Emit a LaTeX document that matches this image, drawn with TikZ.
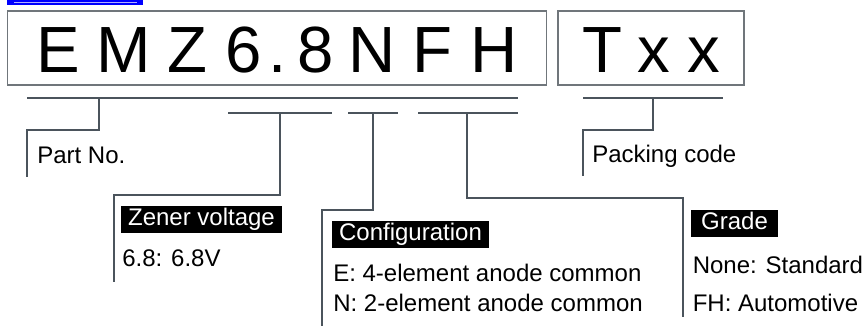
\documentclass[tikz,border=0pt]{standalone}
\usepackage{fontspec}
\setmainfont{Liberation Sans}
\usetikzlibrary{positioning}
\definecolor{leadgray}{HTML}{4B545C}
\definecolor{boxgray}{HTML}{70767B}
\definecolor{linkblue}{HTML}{0000FF}
\tikzset{
  lead/.style={draw=leadgray, line width=2pt},
  codebox/.style={draw=boxgray, line width=0.8pt, minimum height=55.5pt, inner sep=0pt},
  bigchar/.style={font=\fontsize{49}{49}\selectfont, anchor=base, inner sep=0pt},
  itemtext/.style={font=\fontsize{18}{18}\selectfont, anchor=base west, inner sep=0pt},
  headtag/.style={fill=black, text=white, font=\fontsize{18}{18}\selectfont,
    minimum height=20.25pt, inner sep=0pt, text height=13pt, text depth=3.8pt}
}
\begin{document}
\begin{tikzpicture}[x=0.75pt, y=-0.75pt]
    \useasboundingbox (0,0) rectangle (863,326);
    % link bar cut at the top
    \fill[linkblue] (7,0) rectangle (143,5);
    \draw[linkblue!30, line width=0.6pt] (14,2.7) -- (137,2.7);
    % code boxes
    \node[codebox, minimum width=404.8pt] (mainbox) at (276.9,48) {};
    \node[codebox, minimum width=139.5pt] (packbox) at (651,48) {};
    \foreach \c/\x [count=\i] in {E/58.5, M/124, Z/187.5, 6/244, ./278, 8/316, N/372.5, F/432.5, H/494, T/602.5, x/654, x/704} {
        \node[bigchar] (char\i) at (\x,72) {\c};
    }
    % brackets and leaders
    \foreach \xl/\xr/\ya/\xm/\yk/\xe/\yb in {
        27/518/98/99/130/27/177,
        228/332/113/280/195/114/282,
        348/398/113/373/210/322/326,
        418/518/113/467/198/683/317,
        583/723/98/653/130/583/176
    } {
        \draw[lead] (\xl,\ya) -- (\xr,\ya);
        \draw[lead] (\xm,\ya) |- (\xe,\yk) -- (\xe,\yb);
    }
    % labels
    \node[itemtext] (partno) at (37,163) {Part No.};
    \node[itemtext] (packing) at (592,162) {Packing code};
    \node[headtag, minimum width=120.75pt] (zener) at (201.5,219.5) {Zener voltage};
    \node[itemtext] (zenerval) at (122,266) {6.8: 6.8V};
    \node[headtag, minimum width=117.75pt] (config) at (410.5,234.5) {Configuration};
    \node[itemtext] (confe) at (333,281.5) {E: 4-element anode common};
    \node[itemtext] (confn) at (333,311.5) {N: 2-element anode common};
    \node[headtag, minimum width=65.25pt] (grade) at (734.5,223.5) {Grade};
    \node[itemtext] (gradenone) at (692.5,273) {None: Standard};
    \node[itemtext] (gradefh) at (692.5,311.5) {FH: Automotive};
\end{tikzpicture}
\end{document}
